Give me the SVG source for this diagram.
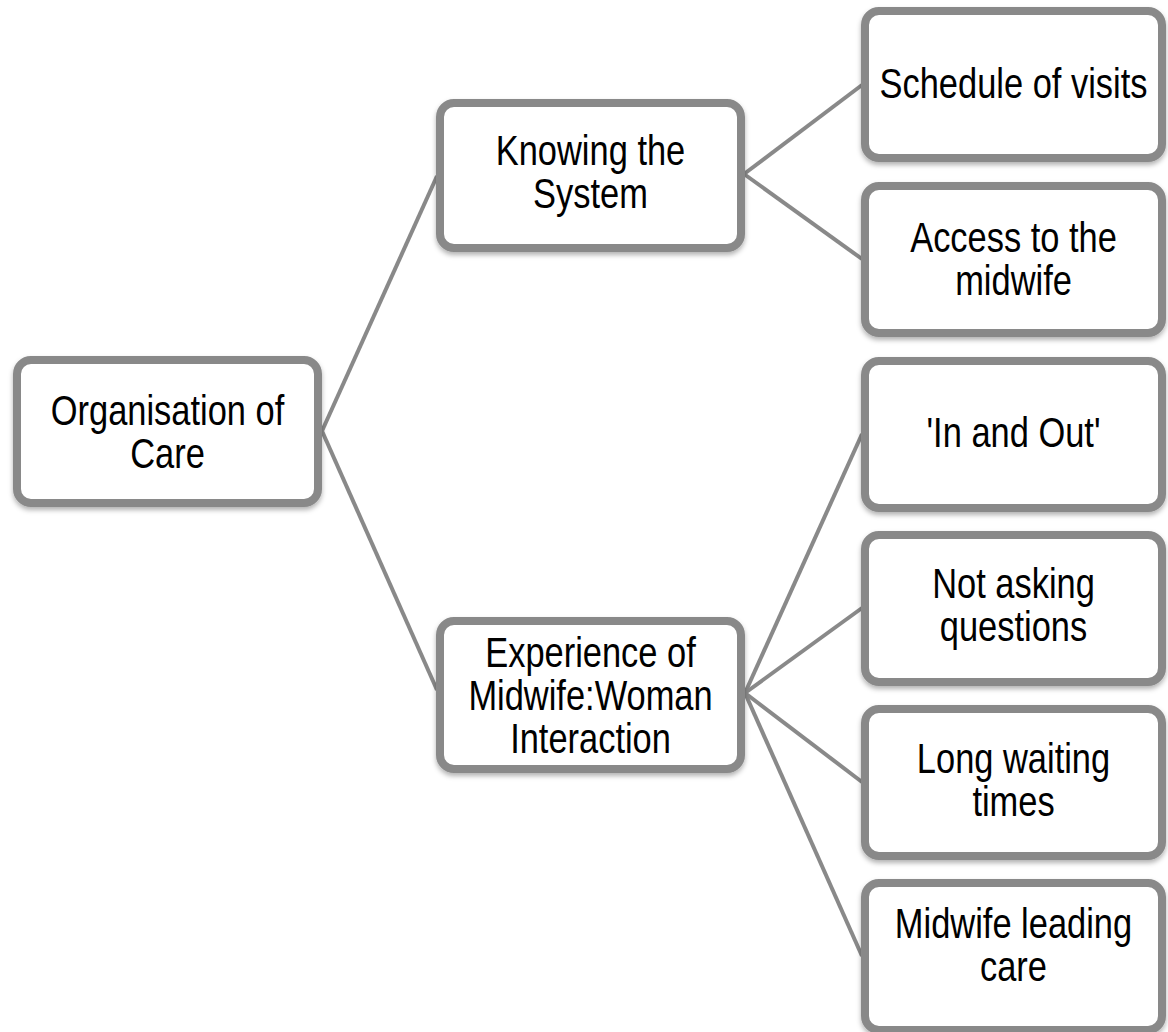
<svg xmlns="http://www.w3.org/2000/svg" width="1168" height="1032" viewBox="0 0 1168 1032">
<defs>
<filter id="sh" x="-10%" y="-10%" width="120%" height="130%">
<feDropShadow dx="0" dy="3" stdDeviation="2.5" flood-color="#000" flood-opacity="0.3"/>
</filter>
</defs>
<style>
.box{fill:#fff;stroke:#898989;stroke-width:8;filter:url(#sh)}
.con{stroke:#898989;stroke-width:4;fill:none}
.t{font-family:"Liberation Sans","Arial",sans-serif;font-size:42px;fill:#000;text-anchor:middle}
</style>
<rect width="1168" height="1032" fill="#fff"/>
<g id="connectors">
<line class="con" x1="322" y1="431" x2="437" y2="176"/>
<line class="con" x1="322" y1="431" x2="437" y2="690"/>
<line class="con" x1="744" y1="174" x2="862" y2="85"/>
<line class="con" x1="744" y1="174" x2="862" y2="259"/>
<line class="con" x1="745" y1="693" x2="862" y2="434"/>
<line class="con" x1="745" y1="693" x2="862" y2="608"/>
<line class="con" x1="745" y1="693" x2="862" y2="782"/>
<line class="con" x1="745" y1="693" x2="862" y2="956"/>
</g>
<g id="organisation">
<rect class="box" x="17" y="360" width="301" height="143" rx="14"/>
<text class="t" transform="translate(167.5 0) scale(0.82 1)"><tspan x="0" y="425">Organisation of</tspan><tspan x="0" y="468">Care</tspan></text>
</g>
<g id="knowing">
<rect class="box" x="440" y="103" width="301" height="145" rx="14"/>
<text class="t" transform="translate(590.5 0) scale(0.82 1)"><tspan x="0" y="165">Knowing the</tspan><tspan x="0" y="208">System</tspan></text>
</g>
<g id="experience">
<rect class="box" x="440" y="621" width="301" height="148" rx="14"/>
<text class="t" transform="translate(590.5 0) scale(0.82 1)"><tspan x="0" y="667">Experience of</tspan><tspan x="0" y="710">Midwife:Woman</tspan><tspan x="0" y="753">Interaction</tspan></text>
</g>
<g id="schedule">
<rect class="box" x="865" y="11" width="297" height="147" rx="14"/>
<text class="t" transform="translate(1013.5 0) scale(0.82 1)"><tspan x="0" y="98">Schedule of visits</tspan></text>
</g>
<g id="access">
<rect class="box" x="865" y="186" width="297" height="147" rx="14"/>
<text class="t" transform="translate(1013.5 0) scale(0.82 1)"><tspan x="0" y="252">Access to the</tspan><tspan x="0" y="295">midwife</tspan></text>
</g>
<g id="inandout">
<rect class="box" x="865" y="361" width="297" height="147" rx="14"/>
<text class="t" transform="translate(1013.5 0) scale(0.82 1)"><tspan x="0" y="447">'In and Out'</tspan></text>
</g>
<g id="notasking">
<rect class="box" x="865" y="535" width="297" height="147" rx="14"/>
<text class="t" transform="translate(1013.5 0) scale(0.82 1)"><tspan x="0" y="598">Not asking</tspan><tspan x="0" y="641">questions</tspan></text>
</g>
<g id="longwaiting">
<rect class="box" x="865" y="709" width="297" height="147" rx="14"/>
<text class="t" transform="translate(1013.5 0) scale(0.82 1)"><tspan x="0" y="773">Long waiting</tspan><tspan x="0" y="816">times</tspan></text>
</g>
<g id="midwifeleading">
<rect class="box" x="865" y="883" width="297" height="147" rx="14"/>
<text class="t" transform="translate(1013.5 0) scale(0.82 1)"><tspan x="0" y="938">Midwife leading</tspan><tspan x="0" y="981">care</tspan></text>
</g>
</svg>
